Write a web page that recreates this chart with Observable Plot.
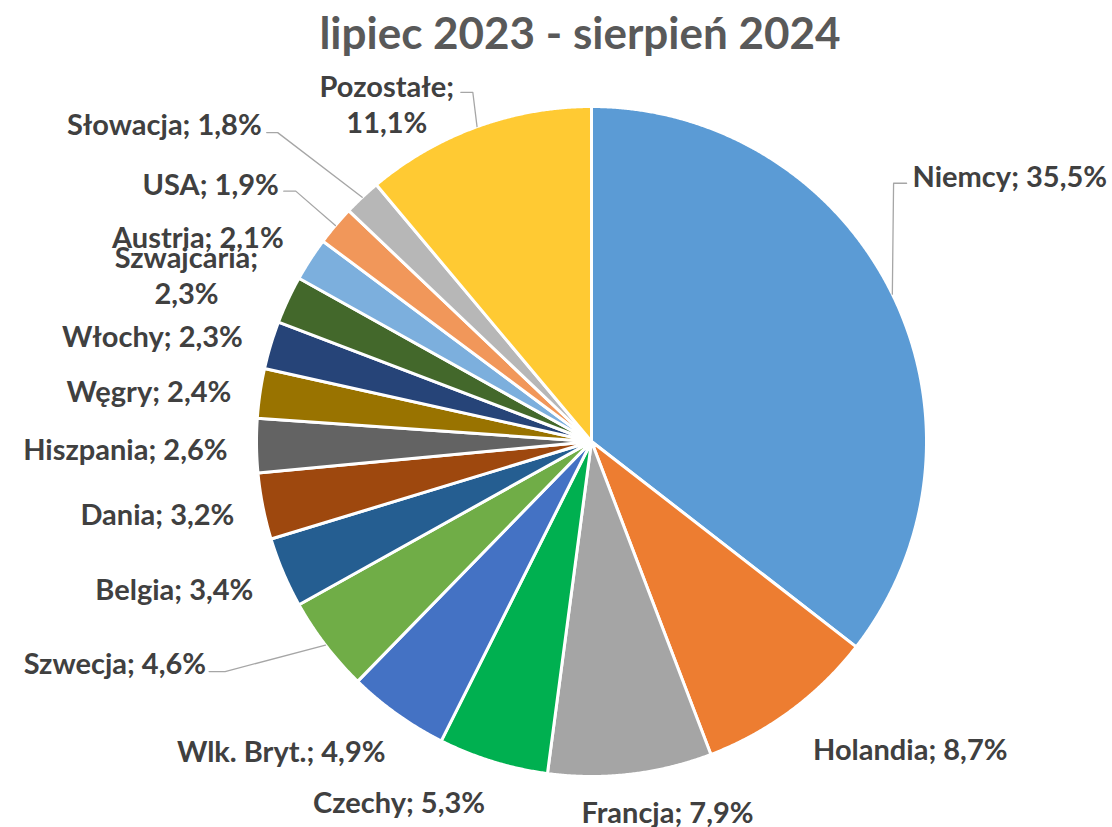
<!DOCTYPE html>
<html><head><meta charset="utf-8">
<script src="https://cdn.jsdelivr.net/npm/d3@7"></script>
<script src="https://cdn.jsdelivr.net/npm/@observablehq/plot@0.6"></script>
<style>
html,body{margin:0;padding:0;background:#fff;overflow:hidden;}
#title{height:64px;line-height:64px;text-align:center;font-family:Lato,sans-serif;font-size:44px;font-weight:700;color:#595959;padding-left:48px;white-space:nowrap;}
#chart svg{display:block;}
</style></head><body>
<div id="title">lipiec 2023 - sierpień 2024</div>
<div id="chart"></div>
<script>
// ---- data ----
const countries = ["Niemcy","Holandia","Francja","Czechy","Wlk. Bryt.","Szwecja","Belgia","Dania","Hiszpania","Węgry","Włochy","Szwajcaria","Austria","USA","Słowacja","Pozostałe"];
const shares = [35.5, 8.7, 7.9, 5.3, 4.9, 4.6, 3.4, 3.2, 2.6, 2.4, 2.3, 2.3, 2.1, 1.9, 1.8, 11.1];

// ---- style ----
const sliceColors = ["#5B9BD5","#ED7D31","#A5A5A5","#00B050","#4472C4","#70AD47","#255E91","#9E480E","#636363","#997300","#264478","#43682B","#7CAFDD","#F1975A","#B7B7B7","#FFCA33"];

// ---- label layout (anchor, pixel nudge from default outside point, line break, leader attach offset) ----
const labelAnchor = ["start","start","middle","end","end","end","end","end","end","end","end","middle","end","end","end","middle"];
const labelNudge = [[-4,-107],[6,16],[34,10],[0,14],[4,14],[-98,1],[-5,5],[-2,2],[-2,2],[-2,1],[-2,-2],[-77,-14],[-4,-8],[-36,-25],[-82,-54],[-81,2]];
const labelBreak = [false,false,false,false,false,false,false,false,false,false,false,true,false,false,false,true];
// leader: [attachDx, attachDy, elbowDx] relative to label anchor (px), or null
const leaders = [[-6,8,-13],null,null,null,null,[3,9,16],null,null,null,null,null,null,null,[5,8,12],[5,9,11],[74,-11,12]];

const R = 335;           // px per unit radius
const labelGap = 27 / R; // default label distance outside the rim

const total = d3.sum(shares);
let acc = 0;
const slices = countries.map((name, i) => {
  const a0 = acc / total * 2 * Math.PI;
  acc += shares[i];
  const a1 = acc / total * 2 * Math.PI;
  return {name, value: shares[i], a0, a1, mid: (a0 + a1) / 2, i};
});

const slicePts = slices.flatMap(s => {
  const n = Math.max(2, Math.ceil((s.a1 - s.a0) / 0.004));
  const pts = [{name: s.name, x: 0, y: 0}];
  for (let k = 0; k <= n; k++) {
    const a = s.a0 + (s.a1 - s.a0) * k / n;
    pts.push({name: s.name, x: Math.sin(a), y: Math.cos(a)});
  }
  pts.push({name: s.name, x: 0, y: 0});
  return pts;
});

const fmt = v => v.toFixed(1).replace(".", ",") + "%";
const labels = slices.map(s => {
  const r = 1 + labelGap;
  const [dx, dy] = labelNudge[s.i];
  return {
    name: s.name,
    text: s.name + ";" + (labelBreak[s.i] ? "\n" : " ") + fmt(s.value),
    anchor: labelAnchor[s.i],
    x: r * Math.sin(s.mid) + dx / R,
    y: r * Math.cos(s.mid) - dy / R
  };
});

const leaderPts = slices.filter(s => leaders[s.i]).flatMap(s => {
  const L = labels[s.i];
  const [ax, ay, ex] = leaders[s.i];
  const endX = L.x + ax / R, endY = L.y - ay / R;
  const elbX = endX + ex / R;
  return [
    {name: s.name, x: Math.sin(s.mid), y: Math.cos(s.mid)},
    {name: s.name, x: elbX, y: endY},
    {name: s.name, x: endX, y: endY}
  ];
});

const textOpts = {x: "x", y: "y", text: "text", fontSize: 29, fontWeight: 700, fill: "#404040", lineHeight: 1.25, fontFamily: "Lato, sans-serif"};

const chart = Plot.plot({
  width: 1112, height: 763,
  marginLeft: 256, marginRight: 186, marginTop: 42, marginBottom: 51,
  x: {domain: [-1, 1], axis: null},
  y: {domain: [-1, 1], axis: null},
  color: {domain: countries, range: sliceColors},
  style: {fontFamily: "Lato, sans-serif", background: "white", overflow: "visible"},
  marks: [
    Plot.line(slicePts, {x: "x", y: "y", z: "name", fill: "name", stroke: "white", strokeWidth: 3, strokeLinejoin: "round"}),
    Plot.line(leaderPts, {x: "x", y: "y", z: "name", stroke: "#A6A6A6", strokeWidth: 1.3}),
    Plot.text(labels.filter(d => d.anchor === "start"), {...textOpts, textAnchor: "start"}),
    Plot.text(labels.filter(d => d.anchor === "end"), {...textOpts, textAnchor: "end"}),
    Plot.text(labels.filter(d => d.anchor === "middle"), {...textOpts, textAnchor: "middle"})
  ]
});
document.getElementById("chart").appendChild(chart);
</script>
</body></html>
